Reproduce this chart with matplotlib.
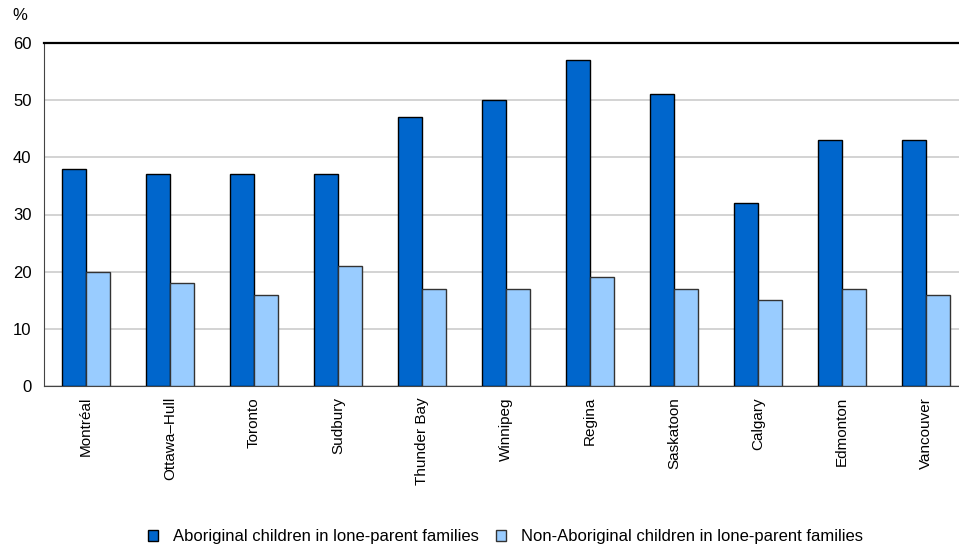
import matplotlib.pyplot as plt
import numpy as np

plt.rcParams['font.family'] = ['Liberation Sans', 'DejaVu Sans']

# Data
cities = ['Montréal', 'Ottawa–Hull', 'Toronto', 'Sudbury', 'Thunder Bay', 'Winnipeg',
          'Regina', 'Saskatoon', 'Calgary', 'Edmonton', 'Vancouver']
aboriginal = [38, 37, 37, 37, 47, 50, 57, 51, 32, 43, 43]
non_aboriginal = [20, 18, 16, 21, 17, 17, 19, 17, 15, 17, 16]

# Plot
fig = plt.figure(figsize=(9.59, 5.48), dpi=100)
ax = fig.add_axes([44 / 959, 1 - 386 / 548, 1 - 44 / 959, (386 - 43) / 548])

x = np.arange(len(cities))
w = 0.29
ax.bar(x - w / 2, aboriginal, w, color='#0066CC', edgecolor='black', lw=1,
       label='Aboriginal children in lone-parent families', zorder=3)
ax.bar(x + w / 2, non_aboriginal, w, color='#99CCFF', edgecolor='#333333', lw=1,
       label='Non-Aboriginal children in lone-parent families', zorder=3)

ax.set_xlim(-0.5, -0.5 + (959 - 44) / 84)
ax.set_ylim(0, 60)
ax.set_yticks(range(0, 61, 10))
ax.yaxis.grid(True, color='#cccccc', lw=1.2, zorder=0)
ax.set_xticks(x)
ax.set_xticklabels(cities, rotation=90)
ax.tick_params(axis='y', length=0, labelsize=12, pad=9)
ax.tick_params(axis='x', length=0, labelsize=11, pad=8)

ax.spines['right'].set_visible(False)
ax.spines['top'].set_linewidth(1.6)
ax.spines['left'].set_color('#444444')
ax.spines['bottom'].set_color('#444444')

fig.text(12 / 959, 1 - 16 / 548, '%', fontsize=12, va='center')

fig.legend(loc='center', bbox_to_anchor=(0.527, 1 - 537 / 548), ncol=2, frameon=False,
           fontsize=12, handlelength=0.6, handleheight=0.6, columnspacing=1.0,
           handletextpad=0.9)

fig.savefig('out.png', dpi=100)
